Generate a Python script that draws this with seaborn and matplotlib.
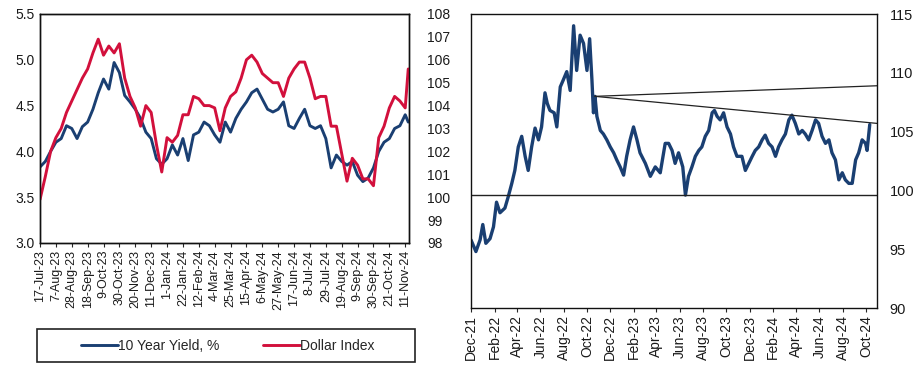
import pandas as pd
import numpy as np
import matplotlib
matplotlib.use("Agg")
import matplotlib.pyplot as plt
import matplotlib.dates as mdates
from matplotlib.patches import Rectangle
from matplotlib.lines import Line2D
import seaborn as sns

# ---------------- data ---------------- #
# left panel: weekly readings, 17-Jul-23 .. mid Nov-24
week_dates = list(pd.date_range("2023-07-17", periods=70, freq="7D")) + [pd.Timestamp("2024-11-15")]
yield_10y = [3.83, 3.89, 4.00, 4.10, 4.14, 4.28, 4.25, 4.14, 4.27, 4.32,
             4.46, 4.64, 4.79, 4.68, 4.97, 4.86, 4.61, 4.54, 4.46, 4.36,
             4.21, 4.14, 3.92, 3.86, 3.92, 4.07, 3.96, 4.14, 3.90, 4.18,
             4.21, 4.32, 4.28, 4.18, 4.10, 4.32, 4.21, 4.36, 4.46, 4.54,
             4.64, 4.68, 4.57, 4.46, 4.43, 4.46, 4.54, 4.28, 4.25, 4.36,
             4.46, 4.28, 4.25, 4.28, 4.14, 3.82, 3.96, 3.89, 3.85, 3.89,
             3.74, 3.67, 3.71, 3.82, 4.00, 4.10, 4.14, 4.25, 4.28, 4.40, 4.32]
dollar_index = [99.9, 100.9, 102.0, 102.6, 103.0, 103.7, 104.2, 104.7, 105.2, 105.6,
                106.3, 106.9, 106.2, 106.6, 106.3, 106.7, 105.2, 104.4, 103.9, 103.1,
                104.0, 103.7, 102.3, 101.1, 102.6, 102.4, 102.7, 103.6, 103.6, 104.4,
                104.3, 104.0, 104.0, 103.9, 102.9, 103.9, 104.4, 104.6, 105.2, 106.0,
                106.2, 105.9, 105.4, 105.2, 105.0, 105.0, 104.4, 105.2, 105.6, 105.9,
                105.9, 105.2, 104.3, 104.4, 104.4, 103.1, 103.1, 101.9, 100.7, 101.7,
                101.4, 100.8, 100.8, 100.5, 102.6, 103.1, 103.9, 104.4, 104.2, 103.9, 105.6]
left_ticks = pd.date_range("2023-07-17", "2024-11-11", freq="21D")

# right panel: dollar index since Dec-21
dxy_dates = ["2021-12-01", "2021-12-14", "2021-12-25", "2022-01-01", "2022-01-09",
             "2022-01-20", "2022-01-29", "2022-02-06", "2022-02-15", "2022-02-28",
             "2022-03-09", "2022-03-18", "2022-03-26", "2022-04-04", "2022-04-13",
             "2022-04-22", "2022-04-30", "2022-05-09", "2022-05-18", "2022-05-27",
             "2022-06-04", "2022-06-13", "2022-06-19", "2022-06-26", "2022-07-07",
             "2022-07-14", "2022-07-23", "2022-07-31", "2022-08-09", "2022-08-18",
             "2022-08-27", "2022-09-04", "2022-09-13", "2022-09-22", "2022-10-01",
             "2022-10-08", "2022-10-14", "2022-10-18", "2022-10-22", "2022-10-27",
             "2022-11-05", "2022-11-13", "2022-11-22", "2022-12-01", "2022-12-10",
             "2022-12-18", "2022-12-27", "2023-01-05", "2023-01-13", "2023-01-22",
             "2023-01-31", "2023-02-09", "2023-02-17", "2023-03-03", "2023-03-16",
             "2023-03-29", "2023-04-11", "2023-04-24", "2023-05-03", "2023-05-12",
             "2023-05-20", "2023-05-29", "2023-06-09", "2023-06-16", "2023-06-24",
             "2023-07-03", "2023-07-12", "2023-07-21", "2023-07-29", "2023-08-07",
             "2023-08-16", "2023-08-25", "2023-08-31", "2023-09-07", "2023-09-15",
             "2023-09-24", "2023-10-03", "2023-10-12", "2023-10-20", "2023-10-29",
             "2023-11-11", "2023-11-20", "2023-11-29", "2023-12-08", "2023-12-16",
             "2023-12-25", "2024-01-03", "2024-01-11", "2024-01-20", "2024-01-29",
             "2024-02-07", "2024-02-15", "2024-02-24", "2024-03-04", "2024-03-13",
             "2024-03-21", "2024-03-30", "2024-04-08", "2024-04-17", "2024-04-25",
             "2024-05-04", "2024-05-13", "2024-05-22", "2024-05-30", "2024-06-08",
             "2024-06-17", "2024-06-26", "2024-07-04", "2024-07-13", "2024-07-22",
             "2024-07-31", "2024-08-08", "2024-08-17", "2024-08-26", "2024-09-04",
             "2024-09-12", "2024-09-21", "2024-09-30", "2024-10-04", "2024-10-11"]
dxy_values = [95.8, 94.8, 95.8, 97.1, 95.5, 95.9, 96.9, 99.0, 98.1, 98.5,
              99.5, 100.6, 101.7, 103.7, 104.6, 102.9, 101.7, 103.7, 105.3, 104.3,
              105.4, 108.3, 107.4, 106.8, 106.6, 105.4, 108.8, 109.4, 110.1, 108.5,
              114.0, 110.2, 113.2, 112.5, 110.2, 112.9, 109.4, 106.6, 108.0, 106.3,
              105.1, 104.8, 104.3, 103.7, 103.2, 102.6, 102.0, 101.3, 102.9, 104.3,
              105.4, 104.3, 103.2, 102.3, 101.2, 102.0, 101.5, 104.0, 104.0, 103.4,
              102.3, 103.2, 102.0, 99.6, 101.2, 102.0, 102.9, 103.4, 103.7, 104.6,
              105.1, 106.6, 106.8, 106.3, 106.0, 106.6, 105.4, 104.8, 103.7, 102.9,
              102.9, 101.7, 102.3, 102.9, 103.4, 103.7, 104.3, 104.7, 104.0, 103.7,
              102.9, 103.7, 104.3, 104.8, 106.0, 106.4, 105.7, 104.8, 105.1, 104.8,
              104.3, 105.1, 106.0, 105.7, 104.6, 104.0, 104.3, 103.2, 102.6, 100.9,
              101.5, 100.9, 100.6, 100.6, 102.6, 103.2, 104.3, 104.0, 103.4, 105.6]
trend_dates = ["2022-10-22", "2024-10-30"]
upper_trend = [108.0, 108.9]
lower_trend = [108.0, 105.7]
support_level = 99.6

NAVY = "#1a3f72"
RED = "#d2103c"
TXT = "#1a1a1a"

sns.set_style("white")
plt.rcParams["font.family"] = ["Liberation Sans", "DejaVu Sans"]

fig = plt.figure(figsize=(9.22, 3.72), dpi=100)

# ---------------- left panel ---------------- #
ax1 = fig.add_axes([0.0434, 0.3468, 0.4002, 0.6156])
left_df = pd.DataFrame({"date": week_dates, "yield": yield_10y, "dxy": dollar_index})
sns.lineplot(data=left_df, x="date", y="yield", ax=ax1, color=NAVY, lw=2.1)
ax1r = ax1.twinx()
sns.lineplot(data=left_df, x="date", y="dxy", ax=ax1r, color=RED, lw=2.1)

ax1.set_ylim(3.0, 5.5)
ax1.set_yticks(np.arange(3.0, 5.51, 0.5))
ax1.set_yticklabels([f"{v:.1f}" for v in np.arange(3.0, 5.51, 0.5)])
ax1r.set_ylim(98, 108)
ax1r.set_yticks(range(98, 109))
ax1.set_xlim(pd.Timestamp("2023-07-17"), pd.Timestamp("2024-11-16"))
ax1.set_xticks(left_ticks)
ax1.set_xticklabels([f"{d.day}-{d:%b-%y}" for d in left_ticks], rotation=90)
for a in (ax1, ax1r):
    a.set_xlabel("")
    a.set_ylabel("")
ax1.tick_params(axis="y", length=0, pad=4, labelsize=10, labelcolor=TXT)
ax1r.tick_params(axis="y", length=0, pad=13, labelsize=10, labelcolor=TXT)
ax1.tick_params(axis="x", length=3, width=0.8, pad=2, labelsize=9, labelcolor=TXT, direction="out", bottom=True)
for s in ax1r.spines.values():
    s.set_color("#111")
    s.set_linewidth(1.0)

# legend box under left panel
fig.patches.append(Rectangle((0.0401, 0.0269), 0.41, 0.0887, transform=fig.transFigure,
                             fill=False, edgecolor="#222", lw=1.2))
handles = [Line2D([], [], color=NAVY, lw=2.1), Line2D([], [], color=RED, lw=2.1)]
fig.legend(handles, ["10 Year Yield, %", "Dollar Index"], loc="center",
           bbox_to_anchor=(0.247, 0.071), ncol=2, frameon=False, fontsize=10,
           handlelength=2.6, handletextpad=0.0, columnspacing=3.2)

# ---------------- right panel ---------------- #
ax2 = fig.add_axes([0.5108, 0.172, 0.4404, 0.7903])
right_df = pd.DataFrame({"date": pd.to_datetime(dxy_dates), "dxy": dxy_values})
sns.lineplot(data=right_df, x="date", y="dxy", ax=ax2, color=NAVY, lw=2.4)
trend_df = pd.DataFrame({"date": pd.to_datetime(trend_dates), "upper": upper_trend, "lower": lower_trend})
sns.lineplot(data=trend_df, x="date", y="upper", ax=ax2, color="#222", lw=0.9)
sns.lineplot(data=trend_df, x="date", y="lower", ax=ax2, color="#222", lw=0.9)
ax2.axhline(support_level, color="#222", lw=1.0)

ax2.set_xlim(pd.Timestamp("2021-12-01"), pd.Timestamp("2024-10-30"))
ax2.set_ylim(90, 115)
ax2.set_yticks(range(90, 116, 5))
ax2.yaxis.tick_right()
ax2.xaxis.set_major_locator(mdates.MonthLocator(bymonth=[2, 4, 6, 8, 10, 12]))
ax2.xaxis.set_major_formatter(mdates.DateFormatter("%b-%y"))
plt.setp(ax2.get_xticklabels(), rotation=90)
ax2.set_xlabel("")
ax2.set_ylabel("")
ax2.tick_params(axis="y", length=0, pad=9, labelsize=10.5, labelcolor=TXT)
ax2.tick_params(axis="x", length=3, width=0.8, pad=2, labelsize=10, labelcolor=TXT, direction="out", bottom=True)

for a in (ax1, ax2):
    for s in a.spines.values():
        s.set_color("#111")
        s.set_linewidth(1.0)

fig.savefig("out.png", dpi=100)
